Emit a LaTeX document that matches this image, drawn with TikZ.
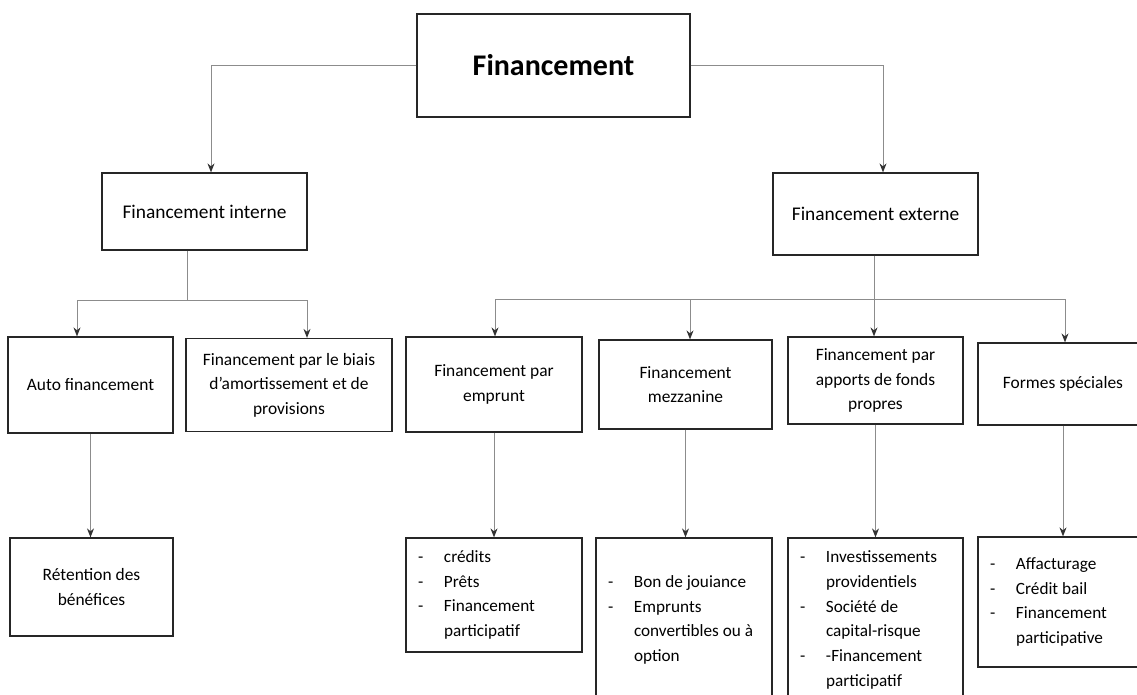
\documentclass[tikz,border=0pt]{standalone}
\usepackage{fontspec}
\setmainfont{Carlito}
\usepackage{tikz}
\usetikzlibrary{positioning,calc,arrows.meta}
\tikzset{box/.style={rectangle,draw=black!85,line width=0.6pt,align=center,inner sep=2pt}}
\tikzset{lst/.style={rectangle,draw=black!85,line width=0.6pt,align=flush left,inner xsep=6pt,inner ysep=2pt,font=\fontsize{8.6}{12.4}\selectfont}}
\tikzset{line/.style={draw=black!45,line width=0.5pt}}
\tikzset{arr/.style={line,-{Stealth[length=4.5pt,width=3.5pt,color=black!80]}}}
\newcommand{\lsdash}{\makebox[13pt][l]{-}}
\newcommand{\lsgap}{\hspace*{13pt}}

\begin{document}
\begin{tikzpicture}[x=0.5pt,y=-0.5pt]
        \useasboundingbox (0,0) rectangle (1137,695);
        % top levels
        \node[box, minimum width=136.5pt, minimum height=51.5pt, font=\fontsize{15}{18}\selectfont\bfseries] (fin) at (553.5,65.5) {Financement};
        \node[box, minimum width=102.5pt, minimum height=38.5pt, font=\fontsize{9.7}{12}\selectfont] (fint) at (204.5,211.5) {Financement interne};
        \node[box, minimum width=102.5pt, minimum height=41pt, font=\fontsize{9.7}{12}\selectfont] (fext) at (875.5,214) {Financement externe};
        % third level
        \begin{scope}[every node/.append style={font=\fontsize{8.7}{12.3}\selectfont}]
        \node[box, minimum width=82.5pt, minimum height=48pt] (auto) at (90.5,385) {Auto financement};
        \node[box, minimum width=103pt, minimum height=46.5pt] (biais) at (289,385) {Financement par le biais\\d'amortissement et de\\provisions};
        \node[box, minimum width=88pt, minimum height=47.5pt] (empr) at (494,384.5) {Financement par\\emprunt};
        \node[box, minimum width=86.5pt, minimum height=44.5pt] (mezz) at (685.5,384.5) {Financement\\mezzanine};
        \node[box, minimum width=87.5pt, minimum height=43.5pt] (appo) at (875.5,380.5) {Financement par\\apports de fonds\\propres};
        \node[box, minimum width=85pt, minimum height=41pt] (form) at (1063,384) {Formes spéciales};
        \node[box, minimum width=81.5pt, minimum height=49pt] (ret) at (91.5,587) {Rétention des\\bénéfices};
        \end{scope}
        % lists
        \node[lst, text width=76pt, minimum height=57pt] (lempr) at (494,595) {\lsdash crédits\\\lsdash Prêts\\\lsdash Financement\\\lsgap participatif};
        \node[lst, text width=76pt, minimum height=82pt] (lmezz) at (684,620) {\lsdash Bon de jouiance\\\lsdash Emprunts\\\lsgap convertibles ou à\\\lsgap option};
        \node[lst, text width=75.5pt, minimum height=82pt] (lappo) at (875.5,620) {\lsdash Investissements\\\lsgap providentiels\\\lsdash Société de\\\lsgap capital-risque\\\lsdash -Financement\\\lsgap participatif};
        \node[lst, text width=73pt, minimum height=65pt] (lform) at (1063,602) {\lsdash Affacturage\\\lsdash Crédit bail\\\lsdash Financement\\\lsgap participative};

        \coordinate (jint) at (187,301);
        \coordinate (jext) at (874,300);

        \draw [arr] (fin.west) -| ($(fint.north)+(6.5,0)$);
        \draw [arr] (fin.east) -| ($(fext.north)+(7.5,0)$);
        \draw [line] ($(fint.south)+(-17.5,0)$) -- (jint);
        \draw [arr] (jint) -| ($(auto.north)+(-13.5,0)$);
        \draw [arr] (jint) -| ($(biais.north)+(18,0)$);
        \draw [line] (fext.south -| jext) -- (jext);
        \draw [arr] (jext) -| ($(empr.north)+(1,0)$);
        \draw [arr] (jext) -| ($(mezz.north)+(4.5,0)$);
        \draw [arr] (jext) -- (jext |- appo.north);
        \draw [arr] (jext) -| ($(form.north)+(2,0)$);
        \draw [arr] (auto.south) -- (auto.south |- ret.north);
        \draw [arr] (empr.south) -- (empr.south |- lempr.north);
        \draw [arr] (mezz.south) -- (mezz.south |- lmezz.north);
        \draw [arr] (appo.south) -- (appo.south |- lappo.north);
        \draw [arr] (form.south) -- (form.south |- lform.north);
\end{tikzpicture}
\end{document}
